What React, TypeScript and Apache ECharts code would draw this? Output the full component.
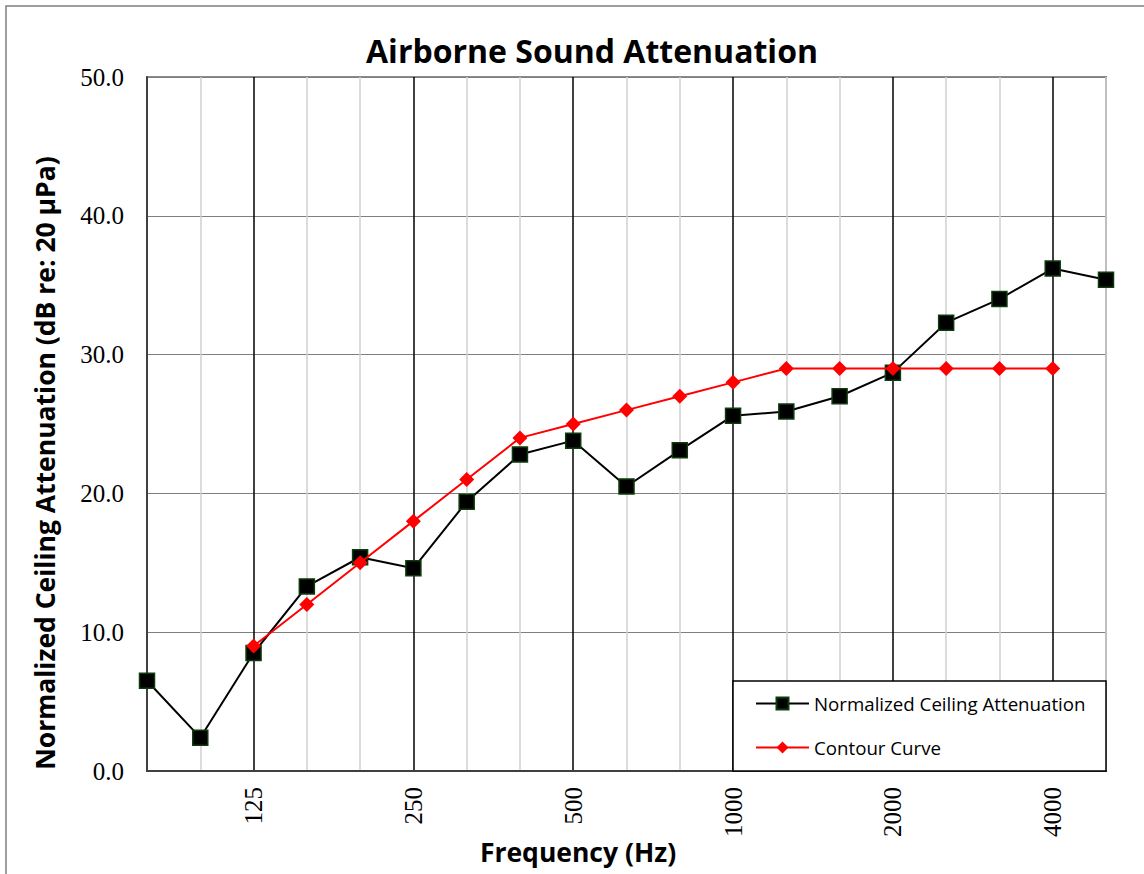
import React, { useEffect, useRef } from "react";
import * as echarts from "echarts";

const frequencies = ["80", "100", "125", "160", "200", "250", "315", "400", "500", "630", "800", "1000", "1250", "1600", "2000", "2500", "3150", "4000", "5000"];
const ncaValues = [6.5, 2.4, 8.5, 13.3, 15.4, 14.6, 19.4, 22.8, 23.8, 20.5, 23.1, 25.6, 25.9, 27.0, 28.7, 32.3, 34.0, 36.2, 35.4];
const contourValues = [null, null, 9, 12, 15, 18, 21, 24, 25, 26, 27, 28, 29, 29, 29, 29, 29, 29, null];
const labeledFrequencies = ["125", "250", "500", "1000", "2000", "4000"];
const yTicks = { min: 0, max: 50, interval: 10 };

export default function App() {
  const ref = useRef<HTMLDivElement>(null);
  useEffect(() => {
    if (!ref.current) return;
    const chart = echarts.init(ref.current, null, { renderer: "svg" });
    const isMajor = (i: number) => labeledFrequencies.includes(frequencies[i]);
    chart.setOption({
      animation: false,
      backgroundColor: "#ffffff",
      grid: {
        left: 147,
        right: 38,
        top: 77,
        bottom: 103,
        show: true,
        borderColor: "#8c8c8c",
        borderWidth: 2,
        containLabel: false,
      },
      graphic: [
        {
          type: "rect",
          shape: { x: 6, y: 6, width: 1300, height: 1000 },
          style: { fill: "none", stroke: "#7f7f7f", lineWidth: 1.5 },
          z: 0,
          silent: true,
        },
        {
          type: "text",
          style: {
            text: "Airborne Sound Attenuation",
            x: 592,
            y: 50,
            align: "center",
            verticalAlign: "middle",
            font: "bold 32px 'Open Sans', sans-serif",
            fill: "#000",
          },
          z: 10,
        },
        {
          type: "text",
          style: {
            text: "Frequency (Hz)",
            x: 578,
            y: 852,
            align: "center",
            verticalAlign: "middle",
            font: "bold 26.5px 'Open Sans', sans-serif",
            fill: "#000",
          },
          z: 10,
        },
        {
          type: "text",
          x: 45,
          y: 463,
          rotation: Math.PI / 2,
          style: {
            text: "Normalized Ceiling Attenuation (dB re: 20 μPa)",
            x: 0,
            y: 0,
            align: "center",
            verticalAlign: "middle",
            font: "bold 26.5px 'Open Sans', sans-serif",
            fill: "#000",
          },
          z: 10,
        },
        {
          type: "rect",
          shape: { x: 733, y: 681, width: 373, height: 90 },
          style: { fill: "#ffffff", stroke: "#000000", lineWidth: 1.5 },
          z: 20,
          silent: true,
        },
      ],
      legend: {
        orient: "vertical",
        left: 755,
        top: 693,
        itemWidth: 53,
        itemHeight: 15,
        itemGap: 23,
        padding: 0,
        z: 30,
        textStyle: {
          fontFamily: "'Open Sans', sans-serif",
          fontSize: 18.7,
          lineHeight: 21,
          color: "#000",
        },
        data: ["Normalized Ceiling Attenuation", "Contour Curve"],
      },
      xAxis: [
        {
          type: "category",
          data: frequencies,
          boundaryGap: false,
          axisLine: { show: true, lineStyle: { color: "#404040", width: 2 } },
          axisTick: { show: false },
          axisLabel: { show: false },
          splitLine: {
            show: true,
            interval: (i: number) => !isMajor(i),
            lineStyle: { color: "#d0d0d0", width: 1.5 },
          },
        },
        {
          type: "category",
          data: frequencies,
          boundaryGap: false,
          position: "bottom",
          axisLine: { show: false },
          axisTick: { show: false },
          axisLabel: {
            show: true,
            interval: (i: number) => isMajor(i),
            rotate: 90,
            margin: 16,
            fontFamily: "'Liberation Serif', 'Times New Roman', serif",
            fontSize: 25,
            color: "#000",
          },
          splitLine: {
            show: true,
            interval: (i: number) => isMajor(i),
            lineStyle: { color: "#000000", width: 1.5 },
          },
        },
      ],
      yAxis: {
        type: "value",
        min: yTicks.min,
        max: yTicks.max,
        interval: yTicks.interval,
        axisLine: { show: true, lineStyle: { color: "#404040", width: 2 } },
        axisTick: { show: false },
        axisLabel: {
          margin: 23,
          formatter: (v: number) => v.toFixed(1),
          fontFamily: "'Liberation Serif', 'Times New Roman', serif",
          fontSize: 25,
          color: "#000",
        },
        splitLine: { show: true, lineStyle: { color: "#7f7f7f", width: 1.2 } },
      },
      series: [
        {
          name: "Normalized Ceiling Attenuation",
          type: "line",
          xAxisIndex: 0,
          data: ncaValues,
          symbol: "rect",
          symbolSize: 15,
          lineStyle: { color: "#000", width: 2 },
          itemStyle: { color: "#000", borderColor: "#0b3d0b", borderWidth: 1.5 },
          z: 5,
        },
        {
          name: "Contour Curve",
          type: "line",
          xAxisIndex: 0,
          data: contourValues,
          symbol: "diamond",
          symbolSize: 15,
          connectNulls: false,
          lineStyle: { color: "#ff0000", width: 2 },
          itemStyle: { color: "#ff0000", borderColor: "#ff0000", borderWidth: 0 },
          z: 6,
        },
      ],
    });
    return () => chart.dispose();
  }, []);
  return <div ref={ref} style={{ position: "fixed", left: 0, top: 0, width: 1144, height: 874 }} />;
}
